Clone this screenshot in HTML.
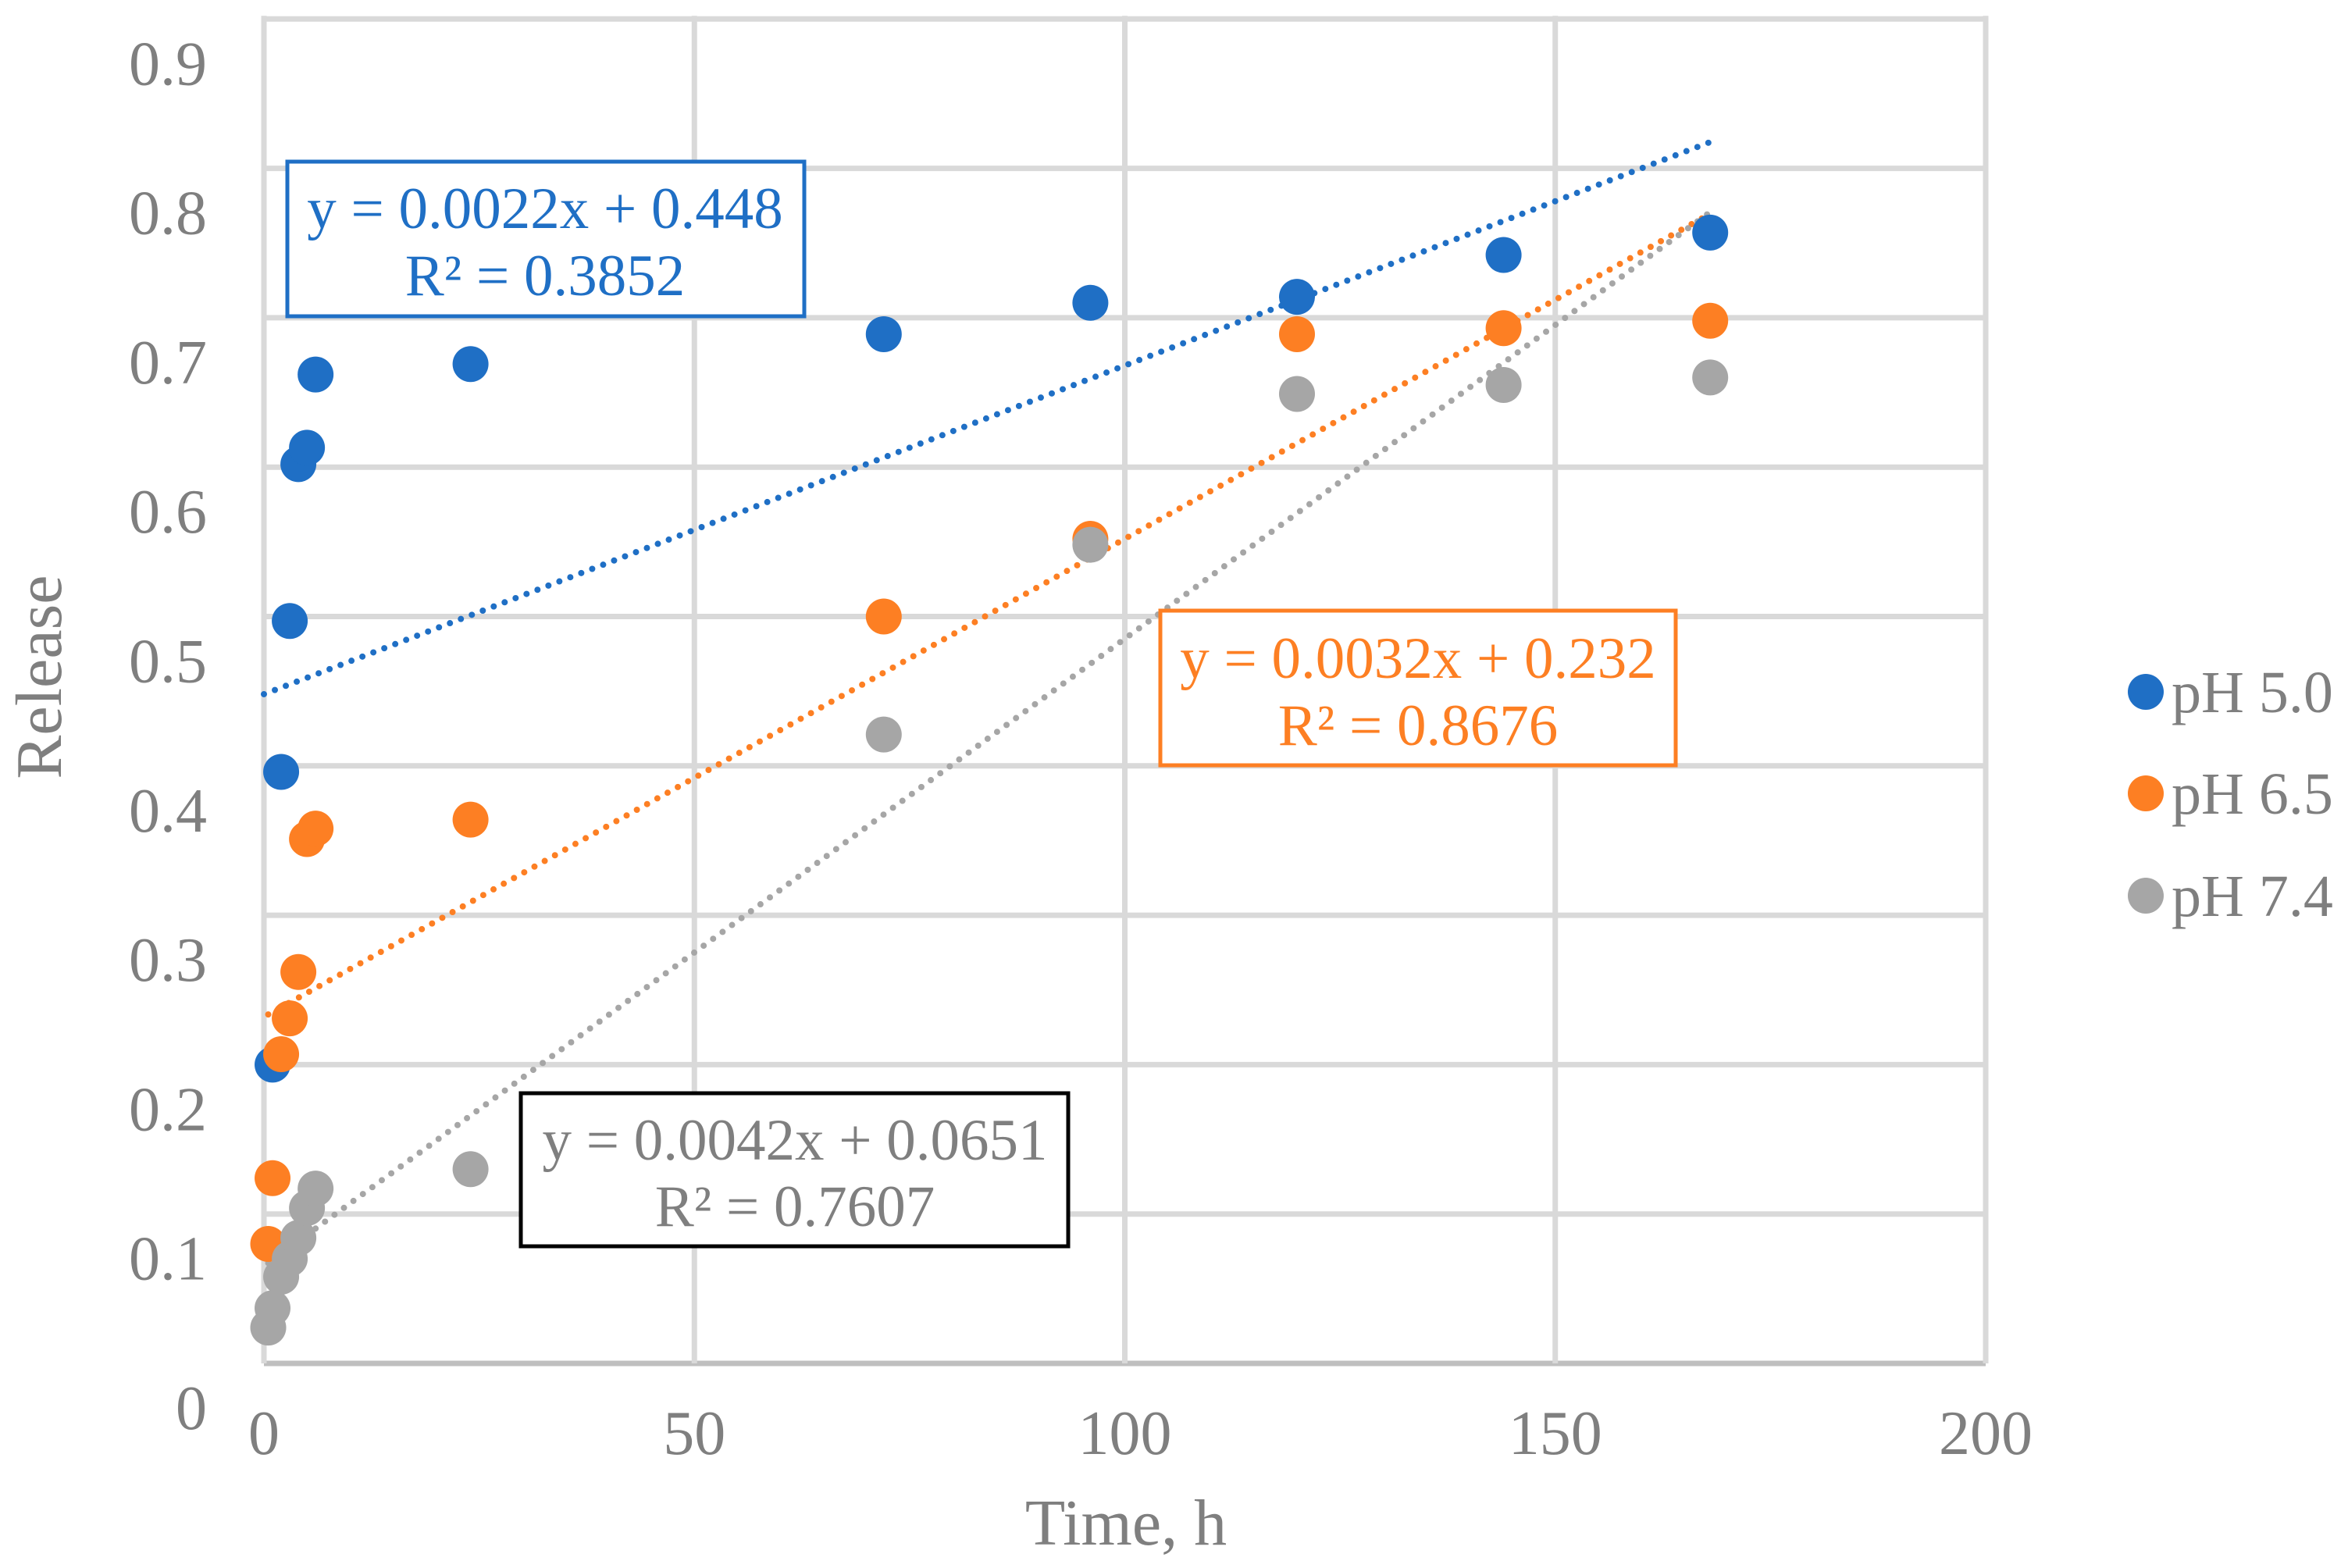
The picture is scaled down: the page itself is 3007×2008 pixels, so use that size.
<!DOCTYPE html>
<html><head><meta charset="utf-8"><style>
html,body{margin:0;padding:0;background:#fff;}
svg{display:block;font-family:"Liberation Serif",serif;}
</style></head><body>
<svg id="chart" width="3007" height="2008" viewBox="0 0 3007 2008" xmlns="http://www.w3.org/2000/svg">
<g id="grid"></g>
<g id="trends"></g>
<g id="pts"></g>
<g id="ticks" fill="#7f7f7f" font-size="80"></g>
<text x="1442" y="1978" font-size="84" fill="#7f7f7f" text-anchor="middle">Time, h</text>
<text x="0" y="0" font-size="84" fill="#7f7f7f" text-anchor="middle" transform="translate(78,867) rotate(-90)">Release</text>
<g>
<rect x="368" y="207" width="662" height="198" fill="#fff" stroke="#1f6fc5" stroke-width="5"/>
<text x="698" y="292" font-size="75" fill="#1f6fc5" text-anchor="middle">y = 0.0022x + 0.448</text>
<text x="698" y="378" font-size="75" fill="#1f6fc5" text-anchor="middle">R² = 0.3852</text>
</g>
<g>
<rect x="1486" y="782" width="660" height="198" fill="#fff" stroke="#fd7f23" stroke-width="5"/>
<text x="1816" y="868" font-size="75" fill="#fd7f23" text-anchor="middle">y = 0.0032x + 0.232</text>
<text x="1816" y="954" font-size="75" fill="#fd7f23" text-anchor="middle">R² = 0.8676</text>
</g>
<g>
<rect x="667" y="1400" width="701" height="196" fill="#fff" stroke="#000" stroke-width="5"/>
<text x="1018" y="1485" font-size="75" fill="#7f7f7f" text-anchor="middle">y = 0.0042x + 0.0651</text>
<text x="1018" y="1570" font-size="75" fill="#7f7f7f" text-anchor="middle">R² = 0.7607</text>
</g>
<g>
<g><circle cx="2748" cy="886" r="23" fill="#1f6fc5"/><text x="2781" y="912" font-size="76" fill="#7f7f7f">pH 5.0</text></g>
<g><circle cx="2748" cy="1016" r="23" fill="#fd7f23"/><text x="2781" y="1042" font-size="76" fill="#7f7f7f">pH 6.5</text></g>
<g><circle cx="2748" cy="1147" r="23" fill="#a6a6a6"/><text x="2781" y="1173" font-size="76" fill="#7f7f7f">pH 7.4</text></g>
</g>
</svg>
<script>
const times = [0.5, 1, 2, 3, 4, 5, 6, 24, 72, 96, 120, 144, 168];
const blueTimes = [1, 2, 3, 4, 5, 6, 24, 72, 96, 120, 144, 168];
const ph50 = [0.200, 0.396, 0.497, 0.602, 0.613, 0.662, 0.669, 0.689, 0.710, 0.714, 0.742, 0.757];
const ph65 = [0.080, 0.124, 0.207, 0.231, 0.262, 0.351, 0.358, 0.364, 0.500, 0.552, 0.689, 0.693, 0.698];
const ph74 = [0.024, 0.037, 0.058, 0.070, 0.084, 0.104, 0.117, 0.130, 0.421, 0.548, 0.649, 0.655, 0.660];
const trendSlopes = [0.0022, 0.0032, 0.0042];
const trendIntercepts = [0.448, 0.232, 0.0651];
const trendStarts = [0, 0.5, 0.5];
const xTicks = [0, 50, 100, 150, 200];
const yTicks = [0, 0.1, 0.2, 0.3, 0.4, 0.5, 0.6, 0.7, 0.8, 0.9];

const NS = "http://www.w3.org/2000/svg";
const X = t => 338 + t * (2543 - 338) / 200;
const Y = v => 1746 - v * 1913;
function mk(tag, attrs, parent){const e=document.createElementNS(NS,tag);for(const k in attrs)e.setAttribute(k,attrs[k]);parent.appendChild(e);return e;}

const grid = document.getElementById('grid');
yTicks.forEach(v=>{
  const l = mk('line',{x1:X(0),x2:X(200),y1:Y(v),y2:Y(v),stroke:v===0?'#bfbfbf':'#d9d9d9','stroke-width':7},grid);
  
  
});
xTicks.forEach(t=>{
  const l = mk('line',{x1:X(t),x2:X(t),y1:Y(0.9)-4,y2:Y(0),stroke:'#d9d9d9','stroke-width':7},grid);
  
  
});
const ticks = document.getElementById('ticks');
yTicks.forEach(v=>{
  const tx = mk('text',{x:265,y:Y(v)+84,'text-anchor':'end'},ticks);
  tx.textContent = String(v);
  
  
});
xTicks.forEach(t=>{
  const tx = mk('text',{x:X(t),y:1862,'text-anchor':'middle'},ticks);
  tx.textContent = String(t);
  
  
});

const colors = ['#1f6fc5','#fd7f23','#a6a6a6'];
const series = [[blueTimes, ph50],[times, ph65],[times, ph74]];
const trends = document.getElementById('trends');
series.forEach((s,i)=>{
  const x0 = trendStarts[i], x1 = s[0][s[0].length-1];
  const l = mk('line',{x1:X(x0),y1:Y(trendIntercepts[i]+trendSlopes[i]*x0),x2:X(x1),y2:Y(trendIntercepts[i]+trendSlopes[i]*x1),stroke:colors[i],'stroke-width':8,'stroke-linecap':'round','stroke-dasharray':'0 15'},trends);
  
  
});
const pts = document.getElementById('pts');
series.forEach((s,i)=>{
  s[1].forEach((v,j)=>{
    const c = mk('circle',{cx:X(s[0][j]),cy:Y(v),r:23,fill:colors[i]},pts);
    
    
  });
});
</script>
</body></html>
